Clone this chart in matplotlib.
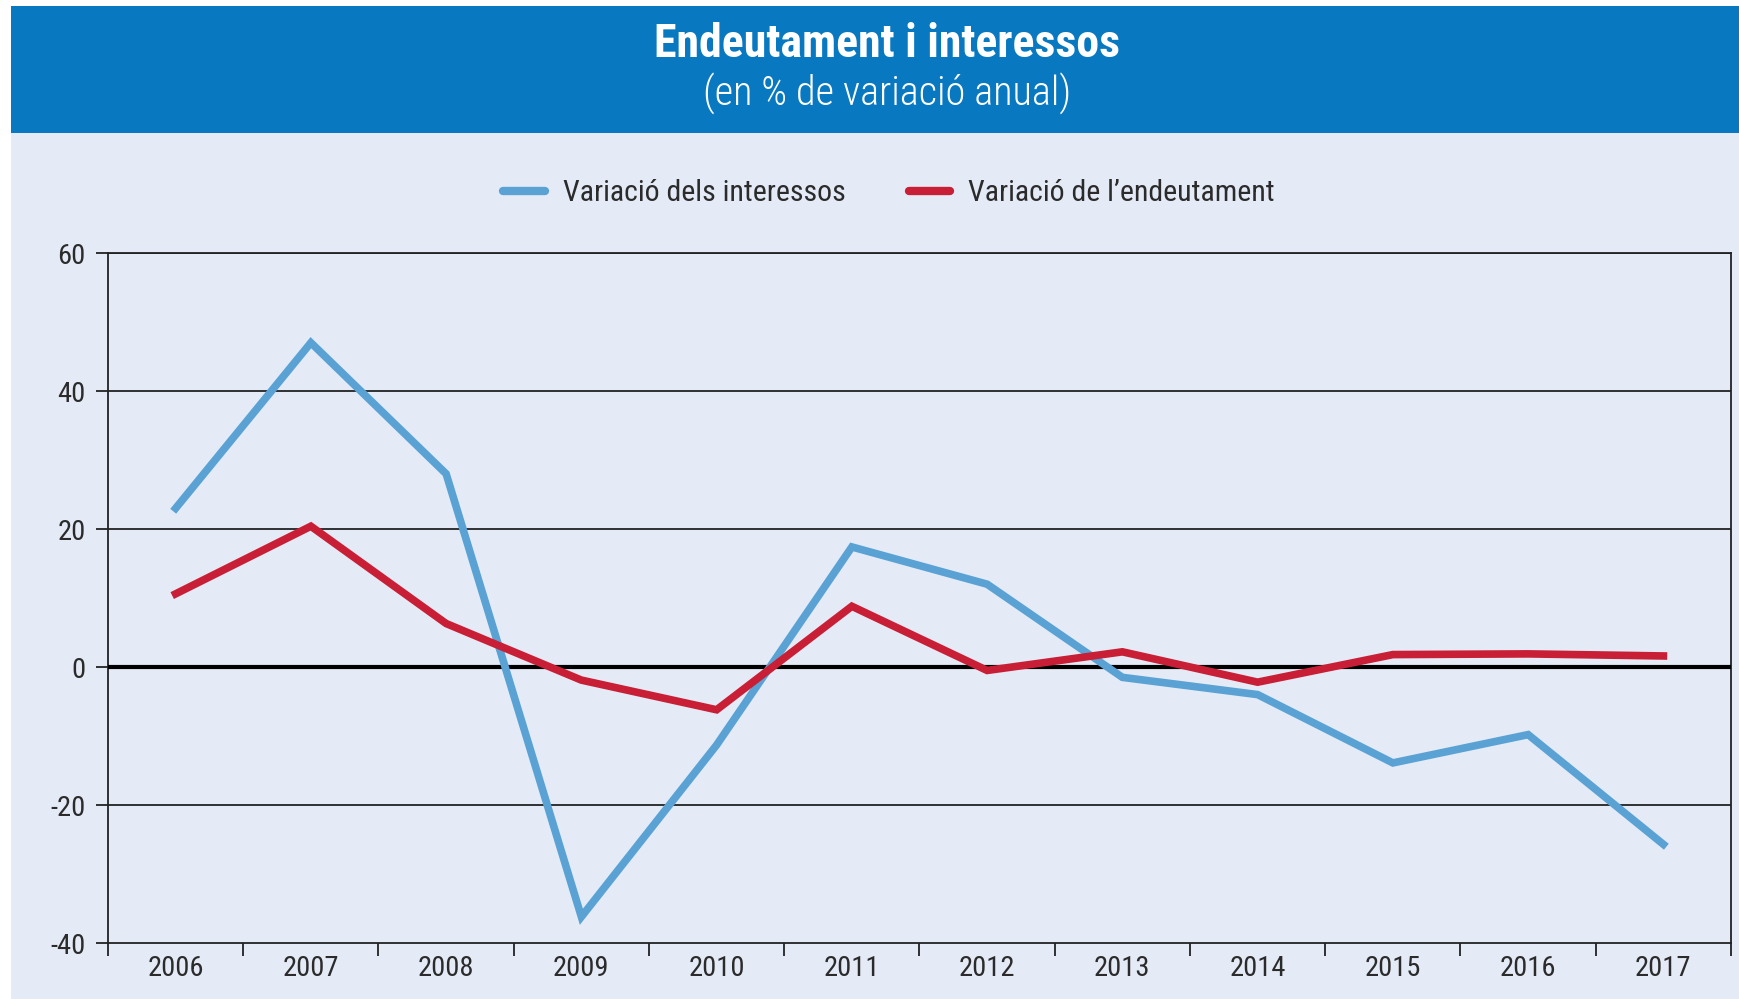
import matplotlib
matplotlib.use('Agg')
import matplotlib.pyplot as plt
from matplotlib.patches import Rectangle
from matplotlib.lines import Line2D
from matplotlib import font_manager as fm
import numpy as np

# ---- data ----
years = ['2006', '2007', '2008', '2009', '2010', '2011',
         '2012', '2013', '2014', '2015', '2016', '2017']
interessos = [23.0, 47.0, 28.0, -36.2, -11.3, 17.4, 12.0, -1.5, -4.0, -13.9, -9.8, -25.7]
endeutament = [10.6, 20.4, 6.3, -1.9, -6.2, 8.8, -0.5, 2.2, -2.2, 1.8, 1.9, 1.6]
yticks = [-40, -20, 0, 20, 40, 60]
title = 'Endeutament i interessos'
subtitle = '(en % de variació anual)'
series_labels = ['Variació dels interessos', 'Variació de l\u2019endeutament']

# ---- style ----
names = {f.name for f in fm.fontManager.ttflist}
FONT = 'Liberation Sans'
for cand in ['Roboto Condensed', 'Liberation Sans Narrow', 'Open Sans Condensed',
             'DejaVu Sans Condensed']:
    if cand in names:
        FONT = cand
        break
NARROW = FONT != 'Liberation Sans'
plt.rcParams['font.family'] = [FONT, 'DejaVu Sans']

BANNER = '#0879C1'
PANEL = '#E4EBF6'
BLUE = '#5AA2D4'
RED = '#C81F36'
TXT = '#2B2B2B'

W, H = 1740, 999
fig = plt.figure(figsize=(W / 100, H / 100), dpi=100, facecolor='white')

# background panel and banner (figure coords)
fig.patches.append(Rectangle((11 / W, 0), 1 - 11 / W, (H - 133) / H,
                             transform=fig.transFigure, facecolor=PANEL,
                             edgecolor='none', zorder=-10))
fig.patches.append(Rectangle((11 / W, (H - 133) / H), 1 - 11 / W, (133 - 6) / H,
                             transform=fig.transFigure, facecolor=BANNER,
                             edgecolor='none', zorder=-10))

fig.text(0.510, 1 - 44 / H, title, color='white',
         fontsize=33 if NARROW else 28, fontweight='bold',
         ha='center', va='center')
fig.text(0.510, 1 - 93 / H, subtitle, color='white',
         fontsize=29 if NARROW else 25, fontweight='light',
         ha='center', va='center')

# axes
left, right = 108 / W, 1731 / W
bottom, top = (H - 943) / H, (H - 253) / H
ax = fig.add_axes([left, bottom, right - left, top - bottom])
ax.set_facecolor('none')
ax.set_zorder(5)

x = np.arange(len(years))
ax.plot(x, interessos, color=BLUE, lw=5.5, solid_joinstyle='miter', zorder=4,
        label=series_labels[0])
ax.plot(x, endeutament, color=RED, lw=5.5, solid_joinstyle='miter', zorder=5,
        label=series_labels[1])

ax.set_xlim(-0.5, len(years) - 0.5)
ax.set_ylim(yticks[0], yticks[-1])

# gridlines
for yv in yticks:
    if yv == 0:
        ax.axhline(0, color='black', lw=3, zorder=3)
    elif yv != yticks[0]:
        ax.axhline(yv, color='#222222', lw=1.3, zorder=2)

for s in ['left', 'right', 'bottom', 'top']:
    ax.spines[s].set_color('#222222')
    ax.spines[s].set_linewidth(1.3)

tick_fs = 20.5 if NARROW else 20
ax.set_yticks(yticks)
ax.set_yticklabels([str(v) for v in yticks])
ax.set_xticks(x)
ax.set_xticklabels(years)
ax.set_xticks(np.arange(-0.5, len(years), 1.0), minor=True)
ax.tick_params(axis='x', which='major', length=0, pad=9, labelsize=tick_fs, labelcolor=TXT)
ax.tick_params(axis='x', which='minor', length=9, width=1.3, color='#222222', direction='out')
ax.tick_params(axis='y', which='major', length=9, width=1.3, color='#222222',
               direction='out', pad=7, labelsize=tick_fs, labelcolor=TXT)

# legend
leg_fs = 21.5 if NARROW else 19
handles = [Line2D([0], [0], color=BLUE, lw=6, solid_capstyle='round'),
           Line2D([0], [0], color=RED, lw=6, solid_capstyle='round')]
leg = fig.legend(handles, series_labels, loc='center', bbox_to_anchor=(0.511, 1 - 193 / H),
                 ncol=2, frameon=False, fontsize=leg_fs, handlelength=1.4,
                 handletextpad=0.6, columnspacing=2.1)
for t in leg.get_texts():
    t.set_color(TXT)

fig.savefig('out.png', dpi=100, facecolor='white')
